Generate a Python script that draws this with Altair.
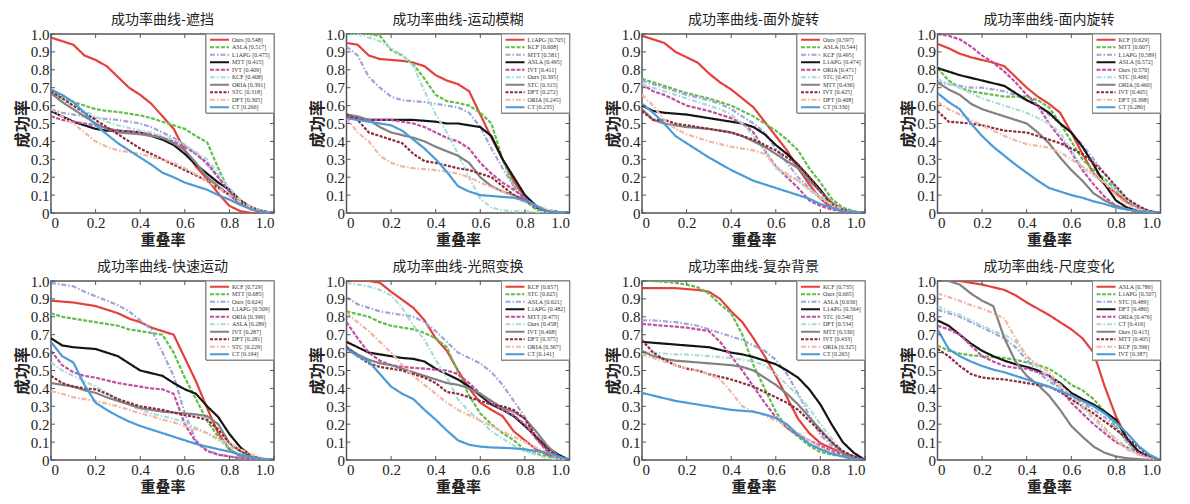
import altair as alt
import pandas as pd

# ---------------- data ----------------
X = [0.0, 0.05, 0.1, 0.15, 0.2, 0.25, 0.3, 0.35, 0.4, 0.45, 0.5,
     0.55, 0.6, 0.65, 0.7, 0.75, 0.8, 0.85, 0.9, 0.95, 1.0]
X_TICKS = [0.0, 0.2, 0.4, 0.6, 0.8, 1.0]
Y_TICKS = [0.0, 0.1, 0.2, 0.3, 0.4, 0.5, 0.6, 0.7, 0.8, 0.9, 1.0]

TITLES = ["成功率曲线-遮挡", "成功率曲线-运动模糊", "成功率曲线-面外旋转", "成功率曲线-面内旋转",
          "成功率曲线-快速运动", "成功率曲线-光照变换", "成功率曲线-复杂背景", "成功率曲线-尺度变化"]

P1_NAMES = ["Ours", "ASLA", "L1APG", "MTT", "IVT", "KCF", "ORIA", "STC", "DFT", "CT"]
P1_SCORES = [0.548, 0.517, 0.475, 0.415, 0.409, 0.408, 0.391, 0.318, 0.305, 0.266]
P1_Y = [
    [0.98, 0.96, 0.94, 0.88, 0.855, 0.82, 0.76, 0.70, 0.66, 0.61, 0.54, 0.47, 0.35, 0.26, 0.19, 0.11, 0.04, 0.01, 0.0, 0.0, 0.0],
    [0.68, 0.65, 0.62, 0.60, 0.58, 0.57, 0.565, 0.555, 0.545, 0.53, 0.51, 0.49, 0.47, 0.43, 0.395, 0.25, 0.12, 0.05, 0.02, 0.005, 0.0],
    [0.58, 0.56, 0.55, 0.54, 0.53, 0.525, 0.52, 0.51, 0.50, 0.48, 0.45, 0.42, 0.38, 0.33, 0.27, 0.20, 0.12, 0.06, 0.02, 0.005, 0.0],
    [0.57, 0.54, 0.51, 0.49, 0.47, 0.46, 0.46, 0.455, 0.45, 0.43, 0.41, 0.38, 0.33, 0.27, 0.22, 0.17, 0.13, 0.07, 0.03, 0.01, 0.0],
    [0.54, 0.52, 0.51, 0.50, 0.49, 0.475, 0.46, 0.455, 0.45, 0.44, 0.42, 0.40, 0.37, 0.33, 0.28, 0.20, 0.12, 0.06, 0.02, 0.005, 0.0],
    [0.68, 0.64, 0.60, 0.57, 0.54, 0.51, 0.49, 0.475, 0.46, 0.45, 0.43, 0.41, 0.38, 0.34, 0.30, 0.22, 0.14, 0.07, 0.03, 0.01, 0.0],
    [0.67, 0.62, 0.58, 0.54, 0.50, 0.47, 0.45, 0.445, 0.44, 0.43, 0.42, 0.39, 0.35, 0.28, 0.20, 0.15, 0.10, 0.05, 0.02, 0.005, 0.0],
    [0.68, 0.64, 0.60, 0.56, 0.52, 0.48, 0.44, 0.40, 0.36, 0.33, 0.30, 0.27, 0.24, 0.21, 0.18, 0.14, 0.10, 0.06, 0.03, 0.01, 0.0],
    [0.58, 0.54, 0.50, 0.45, 0.40, 0.37, 0.35, 0.34, 0.33, 0.315, 0.30, 0.28, 0.25, 0.215, 0.18, 0.14, 0.10, 0.06, 0.03, 0.01, 0.0],
    [0.69, 0.66, 0.62, 0.56, 0.49, 0.44, 0.39, 0.35, 0.31, 0.27, 0.225, 0.20, 0.17, 0.15, 0.13, 0.10, 0.075, 0.045, 0.02, 0.005, 0.0],
]

P2_NAMES = ["L1APG", "KCF", "MTT", "ASLA", "IVT", "Ours", "STC", "DFT", "ORIA", "CT"]
P2_SCORES = [0.705, 0.608, 0.581, 0.495, 0.411, 0.395, 0.315, 0.272, 0.245, 0.235]
P2_Y = [
    [0.95, 0.94, 0.88, 0.86, 0.855, 0.85, 0.84, 0.82, 0.77, 0.74, 0.72, 0.68, 0.55, 0.42, 0.30, 0.18, 0.08, 0.03, 0.01, 0.005, 0.0],
    [1.0, 1.0, 1.0, 0.99, 0.91, 0.88, 0.83, 0.75, 0.66, 0.625, 0.615, 0.60, 0.56, 0.50, 0.30, 0.15, 0.07, 0.02, 0.01, 0.005, 0.0],
    [0.93, 0.88, 0.76, 0.70, 0.65, 0.63, 0.625, 0.62, 0.61, 0.60, 0.59, 0.56, 0.48, 0.36, 0.25, 0.15, 0.08, 0.03, 0.01, 0.005, 0.0],
    [0.53, 0.53, 0.52, 0.52, 0.52, 0.52, 0.52, 0.515, 0.51, 0.50, 0.50, 0.49, 0.48, 0.43, 0.30, 0.20, 0.10, 0.04, 0.01, 0.005, 0.0],
    [0.54, 0.53, 0.52, 0.52, 0.52, 0.51, 0.50, 0.48, 0.45, 0.42, 0.40, 0.36, 0.28, 0.22, 0.17, 0.13, 0.08, 0.04, 0.01, 0.005, 0.0],
    [1.0, 1.0, 0.98, 0.96, 0.92, 0.88, 0.82, 0.68, 0.55, 0.45, 0.33, 0.20, 0.08, 0.03, 0.015, 0.01, 0.01, 0.005, 0.005, 0.0, 0.0],
    [0.55, 0.54, 0.52, 0.48, 0.45, 0.435, 0.42, 0.40, 0.37, 0.345, 0.32, 0.28, 0.20, 0.15, 0.12, 0.10, 0.07, 0.04, 0.01, 0.005, 0.0],
    [0.55, 0.52, 0.45, 0.43, 0.41, 0.39, 0.33, 0.29, 0.28, 0.265, 0.25, 0.24, 0.22, 0.20, 0.15, 0.10, 0.07, 0.03, 0.01, 0.005, 0.0],
    [0.53, 0.45, 0.40, 0.32, 0.28, 0.26, 0.25, 0.245, 0.24, 0.23, 0.22, 0.20, 0.17, 0.145, 0.12, 0.09, 0.06, 0.04, 0.02, 0.005, 0.0],
    [0.53, 0.52, 0.51, 0.50, 0.49, 0.46, 0.41, 0.36, 0.30, 0.23, 0.15, 0.12, 0.10, 0.095, 0.09, 0.085, 0.07, 0.04, 0.01, 0.005, 0.0],
]

P3_NAMES = ["Ours", "ASLA", "KCF", "L1APG", "ORIA", "STC", "MTT", "IVT", "DFT", "CT"]
P3_SCORES = [0.597, 0.544, 0.495, 0.474, 0.471, 0.457, 0.436, 0.425, 0.408, 0.330]
P3_Y = [
    [0.99, 0.97, 0.95, 0.90, 0.87, 0.84, 0.78, 0.73, 0.69, 0.64, 0.59, 0.51, 0.43, 0.35, 0.25, 0.16, 0.08, 0.03, 0.01, 0.005, 0.0],
    [0.75, 0.73, 0.71, 0.69, 0.67, 0.655, 0.64, 0.62, 0.60, 0.57, 0.54, 0.50, 0.46, 0.41, 0.35, 0.25, 0.17, 0.08, 0.03, 0.01, 0.0],
    [0.74, 0.72, 0.70, 0.68, 0.66, 0.645, 0.63, 0.61, 0.58, 0.54, 0.50, 0.45, 0.36, 0.28, 0.20, 0.14, 0.09, 0.05, 0.02, 0.005, 0.0],
    [0.60, 0.57, 0.56, 0.555, 0.55, 0.54, 0.53, 0.52, 0.51, 0.50, 0.48, 0.44, 0.38, 0.33, 0.27, 0.20, 0.13, 0.05, 0.02, 0.005, 0.0],
    [0.72, 0.68, 0.66, 0.63, 0.60, 0.585, 0.57, 0.55, 0.53, 0.50, 0.45, 0.35, 0.26, 0.20, 0.14, 0.07, 0.04, 0.02, 0.01, 0.005, 0.0],
    [0.72, 0.70, 0.68, 0.66, 0.64, 0.62, 0.60, 0.58, 0.55, 0.50, 0.43, 0.35, 0.25, 0.21, 0.18, 0.13, 0.09, 0.05, 0.02, 0.005, 0.0],
    [0.58, 0.52, 0.50, 0.49, 0.48, 0.475, 0.47, 0.46, 0.45, 0.43, 0.40, 0.37, 0.33, 0.29, 0.25, 0.18, 0.12, 0.06, 0.02, 0.005, 0.0],
    [0.57, 0.52, 0.52, 0.50, 0.49, 0.48, 0.47, 0.46, 0.45, 0.43, 0.41, 0.38, 0.35, 0.31, 0.27, 0.20, 0.12, 0.05, 0.02, 0.005, 0.0],
    [0.66, 0.60, 0.52, 0.47, 0.44, 0.42, 0.40, 0.385, 0.37, 0.36, 0.35, 0.33, 0.26, 0.22, 0.18, 0.13, 0.08, 0.05, 0.02, 0.005, 0.0],
    [0.61, 0.56, 0.50, 0.43, 0.39, 0.35, 0.31, 0.275, 0.24, 0.21, 0.18, 0.16, 0.14, 0.12, 0.10, 0.08, 0.05, 0.03, 0.01, 0.005, 0.0],
]

P4_NAMES = ["KCF", "MTT", "L1APG", "ASLA", "Ours", "STC", "ORIA", "IVT", "DFT", "CT"]
P4_SCORES = [0.629, 0.607, 0.589, 0.572, 0.570, 0.466, 0.460, 0.405, 0.398, 0.280]
P4_Y = [
    [0.945, 0.92, 0.89, 0.87, 0.855, 0.84, 0.82, 0.76, 0.70, 0.65, 0.61, 0.56, 0.45, 0.33, 0.22, 0.16, 0.11, 0.06, 0.03, 0.01, 0.0],
    [0.81, 0.74, 0.70, 0.68, 0.67, 0.66, 0.65, 0.65, 0.65, 0.63, 0.59, 0.50, 0.40, 0.30, 0.24, 0.19, 0.13, 0.07, 0.03, 0.01, 0.0],
    [0.73, 0.72, 0.71, 0.70, 0.70, 0.69, 0.68, 0.66, 0.63, 0.60, 0.55, 0.50, 0.45, 0.38, 0.30, 0.22, 0.14, 0.07, 0.03, 0.01, 0.0],
    [0.81, 0.79, 0.77, 0.755, 0.74, 0.725, 0.71, 0.67, 0.63, 0.60, 0.56, 0.50, 0.45, 0.37, 0.27, 0.16, 0.07, 0.03, 0.01, 0.005, 0.0],
    [1.0, 0.99, 0.97, 0.93, 0.88, 0.84, 0.79, 0.73, 0.66, 0.60, 0.50, 0.42, 0.34, 0.24, 0.16, 0.09, 0.04, 0.02, 0.01, 0.005, 0.0],
    [0.75, 0.72, 0.70, 0.67, 0.64, 0.62, 0.60, 0.58, 0.56, 0.53, 0.50, 0.45, 0.35, 0.25, 0.21, 0.17, 0.13, 0.08, 0.04, 0.01, 0.0],
    [0.73, 0.69, 0.66, 0.61, 0.58, 0.56, 0.54, 0.52, 0.50, 0.45, 0.39, 0.31, 0.24, 0.18, 0.11, 0.07, 0.04, 0.02, 0.01, 0.005, 0.0],
    [0.57, 0.51, 0.505, 0.50, 0.49, 0.475, 0.46, 0.455, 0.45, 0.43, 0.41, 0.39, 0.36, 0.33, 0.28, 0.22, 0.15, 0.08, 0.04, 0.01, 0.0],
    [0.62, 0.58, 0.55, 0.52, 0.49, 0.46, 0.43, 0.405, 0.385, 0.375, 0.365, 0.34, 0.30, 0.26, 0.22, 0.17, 0.10, 0.05, 0.02, 0.005, 0.0],
    [0.67, 0.62, 0.58, 0.50, 0.43, 0.37, 0.32, 0.27, 0.225, 0.18, 0.14, 0.12, 0.10, 0.085, 0.065, 0.05, 0.03, 0.02, 0.01, 0.005, 0.0],
]

P5_NAMES = ["KCF", "MTT", "Ours", "L1APG", "ORIA", "ASLA", "IVT", "DFT", "STC", "CT"]
P5_SCORES = [0.729, 0.685, 0.624, 0.509, 0.399, 0.289, 0.287, 0.281, 0.229, 0.194]
P5_Y = [
    [0.89, 0.885, 0.88, 0.87, 0.86, 0.84, 0.82, 0.79, 0.77, 0.74, 0.72, 0.70, 0.57, 0.44, 0.29, 0.15, 0.06, 0.02, 0.01, 0.005, 0.0],
    [0.82, 0.80, 0.79, 0.78, 0.77, 0.76, 0.75, 0.73, 0.72, 0.71, 0.70, 0.60, 0.46, 0.34, 0.22, 0.13, 0.06, 0.02, 0.01, 0.005, 0.0],
    [0.99, 0.98, 0.97, 0.94, 0.915, 0.89, 0.865, 0.83, 0.78, 0.73, 0.60, 0.47, 0.26, 0.11, 0.056, 0.03, 0.02, 0.01, 0.005, 0.0, 0.0],
    [0.68, 0.64, 0.63, 0.625, 0.62, 0.60, 0.58, 0.54, 0.50, 0.485, 0.47, 0.43, 0.395, 0.37, 0.30, 0.24, 0.145, 0.07, 0.02, 0.005, 0.0],
    [0.61, 0.53, 0.49, 0.47, 0.46, 0.445, 0.43, 0.42, 0.41, 0.40, 0.395, 0.37, 0.20, 0.10, 0.05, 0.03, 0.02, 0.01, 0.005, 0.0, 0.0],
    [0.545, 0.50, 0.47, 0.44, 0.41, 0.375, 0.34, 0.31, 0.28, 0.26, 0.245, 0.23, 0.21, 0.18, 0.15, 0.11, 0.075, 0.05, 0.02, 0.005, 0.0],
    [0.43, 0.42, 0.41, 0.39, 0.375, 0.35, 0.33, 0.31, 0.29, 0.28, 0.27, 0.265, 0.26, 0.255, 0.245, 0.20, 0.094, 0.05, 0.02, 0.005, 0.0],
    [0.47, 0.43, 0.41, 0.40, 0.395, 0.37, 0.34, 0.32, 0.30, 0.29, 0.28, 0.265, 0.25, 0.24, 0.225, 0.17, 0.094, 0.05, 0.02, 0.005, 0.0],
    [0.385, 0.37, 0.35, 0.34, 0.33, 0.315, 0.30, 0.28, 0.26, 0.245, 0.225, 0.21, 0.19, 0.17, 0.15, 0.12, 0.094, 0.06, 0.03, 0.01, 0.0],
    [0.66, 0.58, 0.545, 0.42, 0.32, 0.28, 0.245, 0.215, 0.19, 0.17, 0.15, 0.13, 0.11, 0.09, 0.075, 0.06, 0.047, 0.03, 0.015, 0.005, 0.0],
]

P6_NAMES = ["KCF", "STC", "ASLA", "L1APG", "MTT", "Ours", "IVT", "DFT", "ORIA", "CT"]
P6_SCORES = [0.657, 0.625, 0.621, 0.482, 0.475, 0.458, 0.408, 0.375, 0.367, 0.141]
P6_Y = [
    [1.0, 1.0, 1.0, 0.99, 0.94, 0.895, 0.85, 0.78, 0.68, 0.61, 0.50, 0.40, 0.32, 0.28, 0.245, 0.16, 0.11, 0.06, 0.03, 0.01, 0.0],
    [0.83, 0.815, 0.80, 0.77, 0.75, 0.74, 0.73, 0.71, 0.68, 0.63, 0.49, 0.36, 0.26, 0.20, 0.15, 0.11, 0.056, 0.035, 0.02, 0.005, 0.0],
    [0.91, 0.87, 0.85, 0.83, 0.82, 0.81, 0.80, 0.77, 0.72, 0.66, 0.60, 0.57, 0.54, 0.49, 0.42, 0.33, 0.24, 0.12, 0.05, 0.01, 0.0],
    [0.66, 0.63, 0.60, 0.59, 0.58, 0.57, 0.565, 0.55, 0.51, 0.48, 0.45, 0.41, 0.36, 0.31, 0.28, 0.245, 0.19, 0.13, 0.07, 0.03, 0.0],
    [0.77, 0.68, 0.60, 0.555, 0.53, 0.52, 0.515, 0.51, 0.505, 0.50, 0.48, 0.43, 0.37, 0.32, 0.28, 0.25, 0.20, 0.12, 0.05, 0.01, 0.0],
    [0.99, 0.98, 0.97, 0.95, 0.92, 0.85, 0.75, 0.67, 0.56, 0.46, 0.34, 0.27, 0.22, 0.16, 0.12, 0.08, 0.05, 0.03, 0.01, 0.005, 0.0],
    [0.63, 0.59, 0.56, 0.54, 0.53, 0.51, 0.49, 0.47, 0.45, 0.43, 0.42, 0.40, 0.37, 0.33, 0.29, 0.27, 0.23, 0.16, 0.08, 0.02, 0.0],
    [0.63, 0.58, 0.54, 0.52, 0.51, 0.50, 0.48, 0.46, 0.43, 0.38, 0.37, 0.35, 0.33, 0.31, 0.30, 0.28, 0.23, 0.13, 0.06, 0.02, 0.0],
    [0.82, 0.77, 0.72, 0.66, 0.60, 0.53, 0.47, 0.42, 0.37, 0.32, 0.28, 0.25, 0.22, 0.19, 0.16, 0.13, 0.10, 0.07, 0.04, 0.015, 0.0],
    [0.62, 0.58, 0.55, 0.48, 0.41, 0.37, 0.34, 0.28, 0.225, 0.165, 0.11, 0.085, 0.075, 0.07, 0.068, 0.065, 0.06, 0.05, 0.04, 0.02, 0.0],
]

P7_NAMES = ["KCF", "Ours", "ASLA", "L1APG", "STC", "DFT", "MTT", "IVT", "ORIA", "CT"]
P7_SCORES = [0.735, 0.665, 0.636, 0.564, 0.540, 0.534, 0.530, 0.433, 0.325, 0.265]
P7_Y = [
    [0.96, 0.96, 0.96, 0.96, 0.955, 0.95, 0.94, 0.90, 0.83, 0.77, 0.68, 0.58, 0.47, 0.35, 0.23, 0.15, 0.094, 0.065, 0.04, 0.02, 0.0],
    [1.0, 1.0, 0.995, 0.99, 0.98, 0.965, 0.93, 0.87, 0.82, 0.70, 0.53, 0.40, 0.27, 0.18, 0.13, 0.08, 0.045, 0.03, 0.02, 0.01, 0.0],
    [0.78, 0.78, 0.775, 0.77, 0.76, 0.75, 0.73, 0.71, 0.69, 0.67, 0.64, 0.61, 0.56, 0.48, 0.37, 0.25, 0.14, 0.08, 0.04, 0.01, 0.0],
    [0.66, 0.655, 0.65, 0.645, 0.64, 0.635, 0.63, 0.615, 0.60, 0.59, 0.575, 0.555, 0.535, 0.50, 0.46, 0.395, 0.31, 0.20, 0.10, 0.04, 0.0],
    [0.76, 0.755, 0.75, 0.745, 0.74, 0.73, 0.72, 0.66, 0.58, 0.50, 0.41, 0.32, 0.24, 0.18, 0.14, 0.11, 0.08, 0.05, 0.03, 0.01, 0.0],
    [0.60, 0.60, 0.595, 0.59, 0.59, 0.585, 0.58, 0.575, 0.57, 0.56, 0.55, 0.53, 0.48, 0.42, 0.36, 0.29, 0.20, 0.12, 0.05, 0.015, 0.0],
    [0.61, 0.58, 0.565, 0.555, 0.55, 0.545, 0.54, 0.535, 0.53, 0.52, 0.50, 0.46, 0.42, 0.37, 0.31, 0.24, 0.17, 0.10, 0.04, 0.01, 0.0],
    [0.67, 0.60, 0.56, 0.53, 0.51, 0.50, 0.48, 0.465, 0.45, 0.43, 0.41, 0.38, 0.35, 0.32, 0.28, 0.22, 0.16, 0.10, 0.05, 0.02, 0.0],
    [0.59, 0.57, 0.55, 0.53, 0.51, 0.50, 0.48, 0.45, 0.38, 0.30, 0.27, 0.25, 0.22, 0.19, 0.15, 0.11, 0.07, 0.04, 0.02, 0.005, 0.0],
    [0.375, 0.36, 0.345, 0.33, 0.32, 0.31, 0.30, 0.29, 0.28, 0.275, 0.27, 0.255, 0.235, 0.20, 0.14, 0.09, 0.06, 0.035, 0.02, 0.005, 0.0],
]

P8_NAMES = ["ASLA", "L1APG", "STC", "DFT", "ORIA", "CT", "Ours", "MTT", "KCF", "IVT"]
P8_SCORES = [0.786, 0.507, 0.489, 0.480, 0.476, 0.416, 0.415, 0.405, 0.396, 0.387]
P8_Y = [
    [1.0, 1.0, 1.0, 0.99, 0.98, 0.965, 0.95, 0.92, 0.88, 0.845, 0.81, 0.77, 0.73, 0.68, 0.60, 0.41, 0.245, 0.12, 0.045, 0.015, 0.0],
    [0.64, 0.61, 0.595, 0.585, 0.58, 0.575, 0.57, 0.56, 0.545, 0.53, 0.51, 0.47, 0.42, 0.39, 0.34, 0.27, 0.19, 0.10, 0.04, 0.015, 0.0],
    [0.84, 0.82, 0.80, 0.77, 0.74, 0.71, 0.68, 0.63, 0.56, 0.49, 0.44, 0.40, 0.36, 0.32, 0.28, 0.24, 0.18, 0.10, 0.04, 0.01, 0.0],
    [0.78, 0.75, 0.70, 0.65, 0.61, 0.58, 0.555, 0.535, 0.52, 0.50, 0.47, 0.43, 0.375, 0.34, 0.31, 0.27, 0.225, 0.12, 0.05, 0.015, 0.0],
    [0.75, 0.73, 0.70, 0.64, 0.58, 0.55, 0.525, 0.515, 0.51, 0.49, 0.47, 0.40, 0.32, 0.26, 0.20, 0.15, 0.10, 0.07, 0.04, 0.015, 0.0],
    [0.86, 0.83, 0.81, 0.78, 0.75, 0.72, 0.70, 0.66, 0.58, 0.52, 0.46, 0.40, 0.34, 0.29, 0.23, 0.17, 0.12, 0.07, 0.03, 0.01, 0.0],
    [1.0, 1.0, 0.98, 0.93, 0.89, 0.86, 0.68, 0.55, 0.47, 0.42, 0.36, 0.28, 0.19, 0.13, 0.075, 0.04, 0.02, 0.01, 0.005, 0.0, 0.0],
    [0.62, 0.58, 0.525, 0.48, 0.46, 0.455, 0.45, 0.44, 0.43, 0.42, 0.41, 0.38, 0.34, 0.30, 0.26, 0.215, 0.17, 0.12, 0.075, 0.02, 0.0],
    [0.93, 0.91, 0.89, 0.865, 0.845, 0.82, 0.79, 0.68, 0.58, 0.53, 0.49, 0.42, 0.36, 0.30, 0.245, 0.18, 0.11, 0.06, 0.03, 0.01, 0.0],
    [0.73, 0.62, 0.58, 0.55, 0.525, 0.505, 0.49, 0.47, 0.45, 0.43, 0.41, 0.385, 0.36, 0.33, 0.30, 0.26, 0.21, 0.15, 0.08, 0.03, 0.0],
]

PANELS = [
    (TITLES[0], P1_NAMES, P1_SCORES, P1_Y),
    (TITLES[1], P2_NAMES, P2_SCORES, P2_Y),
    (TITLES[2], P3_NAMES, P3_SCORES, P3_Y),
    (TITLES[3], P4_NAMES, P4_SCORES, P4_Y),
    (TITLES[4], P5_NAMES, P5_SCORES, P5_Y),
    (TITLES[5], P6_NAMES, P6_SCORES, P6_Y),
    (TITLES[6], P7_NAMES, P7_SCORES, P7_Y),
    (TITLES[7], P8_NAMES, P8_SCORES, P8_Y),
]

# ---------------- style ----------------
RANKS = list(range(10))
COLORS = ["#e5403b", "#63bf4c", "#a3a3dc", "#151515", "#c34fa3",
          "#a9dcd8", "#828282", "#8c2b3b", "#f3b6a0", "#4b9bd8"]
DASHES = [[1, 0], [4, 1.5], [5, 2, 1.5, 2], [1, 0], [4, 1.5],
          [5, 2, 1.5, 2], [1, 0], [3, 1.5], [5, 2, 1.5, 2], [1, 0]]
WIDTHS = [2.2, 2.2, 1.3, 2.2, 2.2, 1.3, 2.2, 2.2, 1.3, 2.2]

W, H = 223, 179
SERIF = "Liberation Serif"
CJK = "Noto Sans CJK SC"
LABEL_EXPR = "datum.value == 0 ? '0' : format(datum.value, '.1f')"

x_scale = alt.Scale(domain=[0, 1], nice=False)
y_scale = alt.Scale(domain=[0, 1], nice=False)
x_axis = alt.Axis(values=X_TICKS, title="重叠率", labelExpr=LABEL_EXPR, ticks=False, domain=False,
                  grid=False, labelPadding=2, titlePadding=2,
                  labelFont=SERIF, labelFontSize=15, labelColor="#222",
                  titleFont=CJK, titleFontSize=15, titleFontWeight="bold", titleColor="#222")
y_axis = alt.Axis(values=Y_TICKS, title="成功率", labelExpr=LABEL_EXPR, ticks=False, domain=False,
                  grid=False, labelPadding=2, titlePadding=0,
                  labelFont=SERIF, labelFontSize=15, labelColor="#222",
                  titleFont=CJK, titleFontSize=16, titleFontWeight="bold", titleColor="#222")

color_enc = alt.Color("rank:N", scale=alt.Scale(domain=RANKS, range=COLORS), legend=None)
dash_enc = alt.StrokeDash("rank:N", scale=alt.Scale(domain=RANKS, range=DASHES), legend=None)
width_enc = alt.StrokeWidth("rank:N", scale=alt.Scale(domain=RANKS, range=WIDTHS), legend=None)


def panel(title, names, scores, ys):
    rows = []
    for i, (n, s, yy) in enumerate(zip(names, scores, ys)):
        assert len(yy) == len(X)
        for xv, yv in zip(X, yy):
            rows.append({"rank": i, "x": xv, "y": yv})
    df = pd.DataFrame(rows)
    leg = pd.DataFrame({"rank": RANKS,
                        "label": [f"{n} [{s:.3f}]" for n, s in zip(names, scores)]})

    lines = alt.Chart(df).mark_line(clip=True).encode(
        x=alt.X("x:Q", scale=x_scale, axis=x_axis),
        y=alt.Y("y:Q", scale=y_scale, axis=y_axis),
        color=color_enc, strokeDash=dash_enc, strokeWidth=width_enc,
        order=alt.Order("rank:Q", sort="descending"),
    )
    xt = pd.DataFrame({"x": X_TICKS})
    yt = pd.DataFrame({"y": Y_TICKS})
    xtick_b = alt.Chart(xt).mark_rule(color="#555", strokeWidth=1).encode(
        x=alt.X("x:Q", scale=x_scale, axis=x_axis), y=alt.value(H), y2=alt.value(H - 4))
    xtick_t = alt.Chart(xt).mark_rule(color="#555", strokeWidth=1).encode(
        x=alt.X("x:Q", scale=x_scale, axis=x_axis), y=alt.value(0), y2=alt.value(4))
    ytick_l = alt.Chart(yt).mark_rule(color="#555", strokeWidth=1).encode(
        y=alt.Y("y:Q", scale=y_scale, axis=y_axis), x=alt.value(0), x2=alt.value(4))
    ytick_r = alt.Chart(yt).mark_rule(color="#555", strokeWidth=1).encode(
        y=alt.Y("y:Q", scale=y_scale, axis=y_axis), x=alt.value(W), x2=alt.value(W - 4))
    main = alt.layer(lines, xtick_b, xtick_t, ytick_l, ytick_r)

    leg_y = alt.Y("rank:Q", scale=alt.Scale(domain=[-0.5, 9.5], range=[2, 77], nice=False, zero=False),
                  axis=None)
    box = alt.Chart(leg).mark_rect(fill="white", stroke="#8a8a8a", strokeWidth=1).encode(
        x=alt.value(W - 68), x2=alt.value(W), y=alt.value(0), y2=alt.value(79))
    sym = alt.Chart(leg).mark_rule().encode(
        x=alt.value(W - 64), x2=alt.value(W - 45), y=leg_y,
        color=color_enc, strokeDash=dash_enc, strokeWidth=width_enc)
    txt = alt.Chart(leg).mark_text(align="left", baseline="middle", font=SERIF, fontSize=6,
                                   color="#333").encode(
        x=alt.value(W - 42), y=leg_y, text="label:N")
    legend = alt.layer(box, sym, txt)

    return alt.layer(main, legend).resolve_scale(y="independent").properties(
        width=W, height=H,
        title=alt.TitleParams(title, font=CJK, fontSize=14, fontWeight="normal",
                              color="#222", offset=0, anchor="middle"))


charts = [panel(*p) for p in PANELS]
chart = alt.vconcat(
    alt.hconcat(*charts[:4], spacing=32.5),
    alt.hconcat(*charts[4:], spacing=32.5),
    spacing=11,
).properties(
    padding={"left": 5, "top": 4, "right": 2, "bottom": 0},
    background="white",
).configure_view(
    stroke="#555", strokeWidth=1.5
)

chart.save("out.html", embed_options={"renderer": "svg", "actions": False})
